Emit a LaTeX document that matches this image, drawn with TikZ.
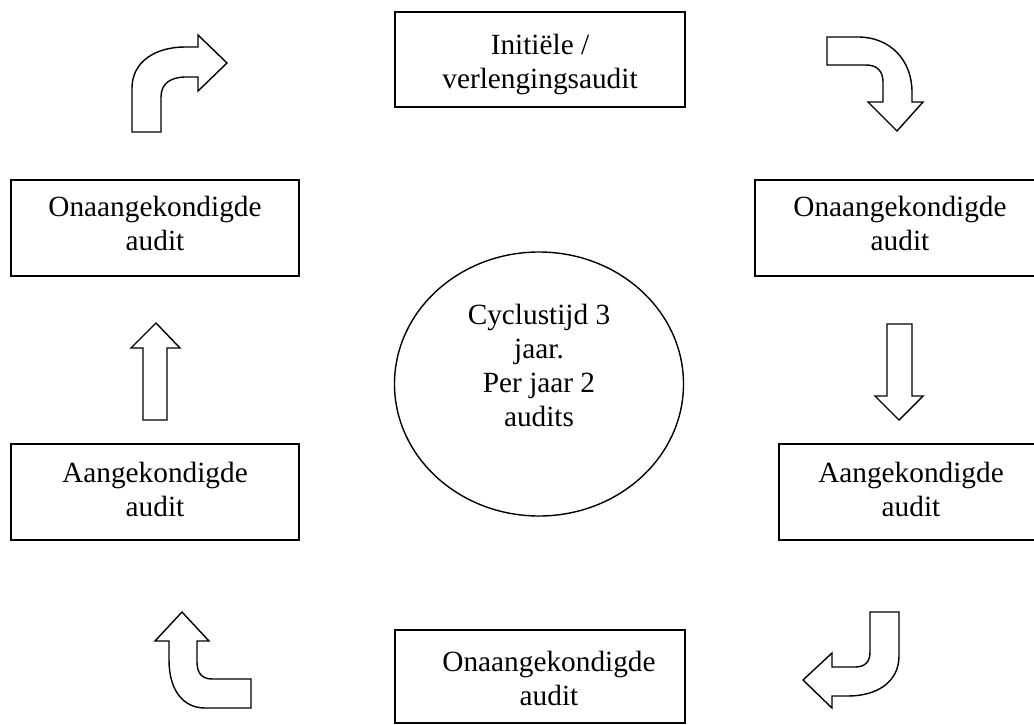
\documentclass[tikz,border=0pt]{standalone}
\usepackage{fontspec}
\setmainfont{Liberation Serif}
\usetikzlibrary{shapes.geometric}
\begin{document}
\begin{tikzpicture}[x=1pt,y=-1pt,
  box/.style={draw, line width=1.5pt, inner sep=0pt},
  txt/.style={align=center, inner sep=0pt, font=\fontsize{29.3}{34}\selectfont},
  blockarrow/.style={draw, fill=white, line width=1.4pt, line join=miter},
  cyclebox/.style={draw, ellipse, line width=1.4pt, inner sep=0pt}]
\clip (0,0) rectangle (1034,725);
\useasboundingbox (0,0) rectangle (1034,725);
% boxes
\node[box, minimum width=290pt, minimum height=95pt] (top) at (540,59.5) {};
\node[txt] (toptxt) at (540,64) {Initiële /\\verlengingsaudit};
\node[box, minimum width=288pt, minimum height=96pt] (lu) at (155,228) {};
\node[txt] (lutxt) at (155,223) {Onaangekondigde\\audit};
\node[box, minimum width=290pt, minimum height=96pt] (ru) at (900,228) {};
\node[txt] (rutxt) at (900,223) {Onaangekondigde\\audit};
\node[box, minimum width=290pt, minimum height=96pt] (rl) at (924,492) {};
\node[txt] (rltxt) at (911,489) {Aangekondigde\\audit};
\node[box, minimum width=288pt, minimum height=96pt] (ll) at (155,492) {};
\node[txt] (lltxt) at (155,489) {Aangekondigde\\audit};
\node[box, minimum width=290pt, minimum height=93pt] (bot) at (540,676.5) {};
\node[txt] (bottxt) at (549,678) {Onaangekondigde\\audit};
% ellipse
\node[cyclebox, minimum width=289pt, minimum height=264pt] (cyc) at (539,384) {};
\node[txt] (cyctxt) at (539,365) {Cyclustijd 3\\jaar.\\Per jaar 2\\audits};
% block arrows
\draw[blockarrow] (132,132) -- (132,88) .. controls (132,62) and (155,47) .. (185,47) -- (198,47) -- (198,35) -- (227,63) -- (198,91) -- (198,77) -- (186,77) .. controls (170,77) and (161,84) .. (161,97) -- (161,132) -- cycle;
\draw[blockarrow] (827,37) -- (858,37) .. controls (890,37) and (912,60) .. (912,92) -- (912,102) -- (923,102) -- (897,131) -- (868,102) -- (883,102) -- (883,82) .. controls (883,71) and (877,65) .. (866,65) -- (827,65) -- cycle;
\draw[blockarrow] (887,324) -- (912,324) -- (912,396) -- (923,396) -- (899,420) -- (875,396) -- (887,396) -- cycle;
\draw[blockarrow] (870,612) -- (899,612) -- (899,656) .. controls (899,682) and (877,696) .. (848,696) -- (832,696) -- (832,708) -- (803,680) -- (832,653) -- (832,667) -- (855,667) .. controls (865,667) and (870,662) .. (870,652) -- cycle;
\draw[blockarrow] (251,679) -- (251,708) -- (205,708) .. controls (183,708) and (169,690) .. (169,660) -- (169,641) -- (155,641) -- (182,612) -- (209,641) -- (197,641) -- (197,662) .. controls (197,673) and (202,679) .. (212,679) -- cycle;
\draw[blockarrow] (143,420) -- (167,420) -- (167,348) -- (180,348) -- (156,323) -- (131,348) -- (143,348) -- cycle;
\end{tikzpicture}
\end{document}
